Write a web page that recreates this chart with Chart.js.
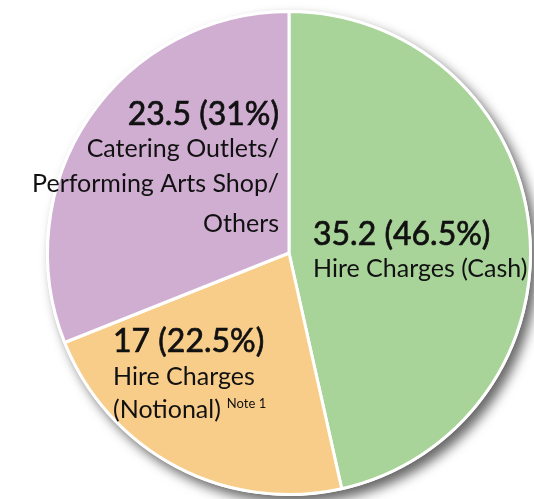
<!DOCTYPE html>
<html>
<head>
<meta charset="utf-8">
<script src="https://cdn.jsdelivr.net/npm/chart.js@4"></script>
<style>
  html, body { margin: 0; padding: 0; background: #fff; }
  #c { display: block; }
</style>
</head>
<body>
<canvas id="c" width="534" height="499"></canvas>
<script>
// ---- data ----
const categories = ["Hire Charges (Cash)", "Hire Charges (Notional)", "Catering Outlets/Performing Arts Shop/Others"];
const values = [35.2, 17, 23.5];
const percents = ["46.5%", "22.5%", "31%"];
const colors = ["#a8d399", "#f8cd8a", "#d0aed2"];

// label lines per slice (text only)
const labelLines = [
  ["Hire Charges (Cash)"],
  ["Hire Charges", "(Notional)"],
  ["Catering Outlets/", "Performing Arts Shop/", "Others"]
];

const FONT = "Lato, 'Noto Sans', sans-serif";

// shadow under the whole pie
const shadowPlugin = {
  id: "pieShadow",
  beforeDatasetsDraw(chart) {
    const arc = chart.getDatasetMeta(0).data[0];
    if (!arc) return;
    const ctx = chart.ctx;
    ctx.save();
    ctx.shadowColor = "rgba(0,0,0,0.6)";
    ctx.shadowBlur = 12;
    ctx.shadowOffsetX = 6;
    ctx.shadowOffsetY = 7;
    ctx.beginPath();
    ctx.arc(arc.x, arc.y, arc.outerRadius + 1.5, 0, 2 * Math.PI);
    ctx.fillStyle = "#fff";
    ctx.fill();
    ctx.restore();
  }
};

// big number line, slightly heavier than regular weight
function numText(ctx, s, x, y) {
  ctx.font = "32px " + FONT;
  ctx.lineWidth = 0.7;
  ctx.strokeStyle = "#111";
  ctx.fillText(s, x, y);
  ctx.strokeText(s, x, y);
}

// text labels inside slices
const labelPlugin = {
  id: "sliceLabels",
  afterDatasetsDraw(chart) {
    const ctx = chart.ctx;
    const a = chart.getDatasetMeta(0).data[0];
    const cx = a.x, cy = a.y;
    ctx.save();
    ctx.fillStyle = "#111";
    ctx.textBaseline = "alphabetic";

    // green slice: left aligned
    ctx.textAlign = "left";
    numText(ctx, values[0] + " (" + percents[0] + ")", cx + 24, cy - 8);
    ctx.font = "25px " + FONT;
    ctx.fillText(labelLines[0][0], cx + 24, cy + 24);

    // orange slice: left aligned
    numText(ctx, values[1] + " (" + percents[1] + ")", cx - 176, cy + 99);
    ctx.font = "25px " + FONT;
    ctx.fillText(labelLines[1][0], cx - 176, cy + 132);
    ctx.fillText(labelLines[1][1], cx - 176, cy + 165);
    const w = ctx.measureText(labelLines[1][1]).width;
    ctx.font = "13px " + FONT;
    ctx.fillText("Note 1", cx - 176 + w + 6, cy + 155);

    // purple slice: right aligned
    ctx.textAlign = "right";
    numText(ctx, values[2] + " (" + percents[2] + ")", cx - 10, cy - 128);
    ctx.font = "25px " + FONT;
    ctx.fillText(labelLines[2][0], cx - 10, cy - 96);
    ctx.fillText(labelLines[2][1], cx - 10, cy - 61);
    ctx.fillText(labelLines[2][2], cx - 10, cy - 21);
    ctx.restore();
  }
};

new Chart(document.getElementById("c"), {
  type: "pie",
  data: {
    labels: categories,
    datasets: [{
      data: values,
      backgroundColor: colors,
      borderColor: "#ffffff",
      borderWidth: 3
    }]
  },
  options: {
    responsive: false,
    animation: false,
    layout: { padding: { left: 46, right: 2, top: 10, bottom: 3 } },
    plugins: {
      legend: { display: false },
      tooltip: { enabled: false }
    }
  },
  plugins: [shadowPlugin, labelPlugin]
});
</script>
</body>
</html>
